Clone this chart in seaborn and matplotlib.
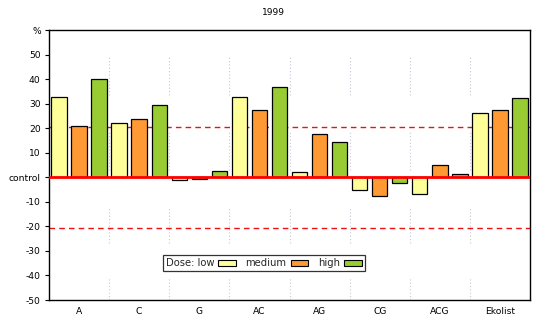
import matplotlib
matplotlib.use("Agg")
import matplotlib.pyplot as plt
from matplotlib.patches import Patch
import seaborn as sns
import pandas as pd

# Treatments and response (% relative to control) per dose
categories = ["A", "C", "G", "AC", "AG", "CG", "ACG", "Ekolist"]
doses = ["low", "medium", "high"]
low = [32.6, 22.3, -1.1, 32.6, 2.2, -5.3, -6.8, 26.1]
medium = [20.7, 23.7, -0.7, 27.5, 17.6, -7.6, 5.0, 27.5]
high = [40.0, 29.4, 2.6, 36.7, 14.3, -2.3, 1.3, 32.2]
threshold = 20.6
yticks = [-50, -40, -30, -20, -10, 0, 10, 20, 30, 40, 50, 60]
ytick_labels = ["-50", "-40", "-30", "-20", "-10", "control",
                "10", "20", "30", "40", "50", "%"]
title = "1999"

colors = ["#FFFF99", "#FF9933", "#99CC33"]

df = pd.DataFrame({
    "treatment": categories * 3,
    "dose": [d for d in doses for _ in categories],
    "value": low + medium + high,
})

sns.set_theme(style="white")
plt.rcParams["font.family"] = ["DejaVu Sans"]
fs = 6.6

fig = plt.figure(figsize=(5.46, 3.25), dpi=100)
ax = fig.add_axes([49 / 546, 1 - 300 / 325, 481 / 546, 270 / 325])

sns.barplot(data=df, x="treatment", y="value", hue="dose",
            order=categories, hue_order=doses, palette=colors,
            width=1.0, gap=0.23, edgecolor="black", linewidth=0.9,
            saturation=1, legend=False, ax=ax, errorbar=None, zorder=3)

ax.set_xlim(-0.5, len(categories) - 0.5)
ax.set_ylim(-50, 60)

# dotted separators between groups
for b in [i + 0.5 for i in range(len(categories) - 1)]:
    for y0, y1 in [(33.5, 49), (3, 18.7), (-26.6, -12.4), (-50, -40.8)]:
        ax.plot([b, b], [y0, y1], color="#c8c8d8", lw=0.8,
                linestyle=(0, (1, 2)), zorder=1)

# control line and threshold lines
ax.axhline(0, color="#ff0000", lw=2.0, zorder=4)
ax.axhline(threshold, color="#ee1111", lw=1.0, linestyle=(0, (4, 3)), zorder=2)
ax.axhline(-threshold, color="#ee1111", lw=1.0, linestyle=(0, (4, 3)), zorder=2)

ax.set_yticks(yticks)
ax.set_yticklabels(ytick_labels, fontsize=fs, color="black")
ax.set_xticks(range(len(categories)))
ax.set_xticklabels(categories, fontsize=fs, color="black")
ax.tick_params(axis="y", which="both", left=True, length=3, width=0.8,
               pad=3, color="black")
ax.tick_params(axis="x", length=0, pad=5)
ax.set_xlabel("")
ax.set_ylabel("")
for s in ax.spines.values():
    s.set_visible(True)
    s.set_color("black")
    s.set_linewidth(1.0)

fig.text(273 / 546, 1 - 12.5 / 325, title, ha="center", va="center",
         fontsize=fs, color="black")

handles = [Patch(facecolor=c, edgecolor="black", linewidth=0.8) for c in colors]
leg = fig.legend(handles, ["Dose: low", "medium", "high"], ncol=3,
                 loc="center", bbox_to_anchor=(263.5 / 546, 1 - 263.4 / 325),
                 markerfirst=False, fontsize=7.2, frameon=True, fancybox=False,
                 handlelength=1.75, handleheight=0.65, handletextpad=0.4,
                 columnspacing=1.0, borderpad=0.3, borderaxespad=0)
leg.get_frame().set_edgecolor("black")
leg.get_frame().set_linewidth(0.9)

fig.savefig("out.png", dpi=100)
